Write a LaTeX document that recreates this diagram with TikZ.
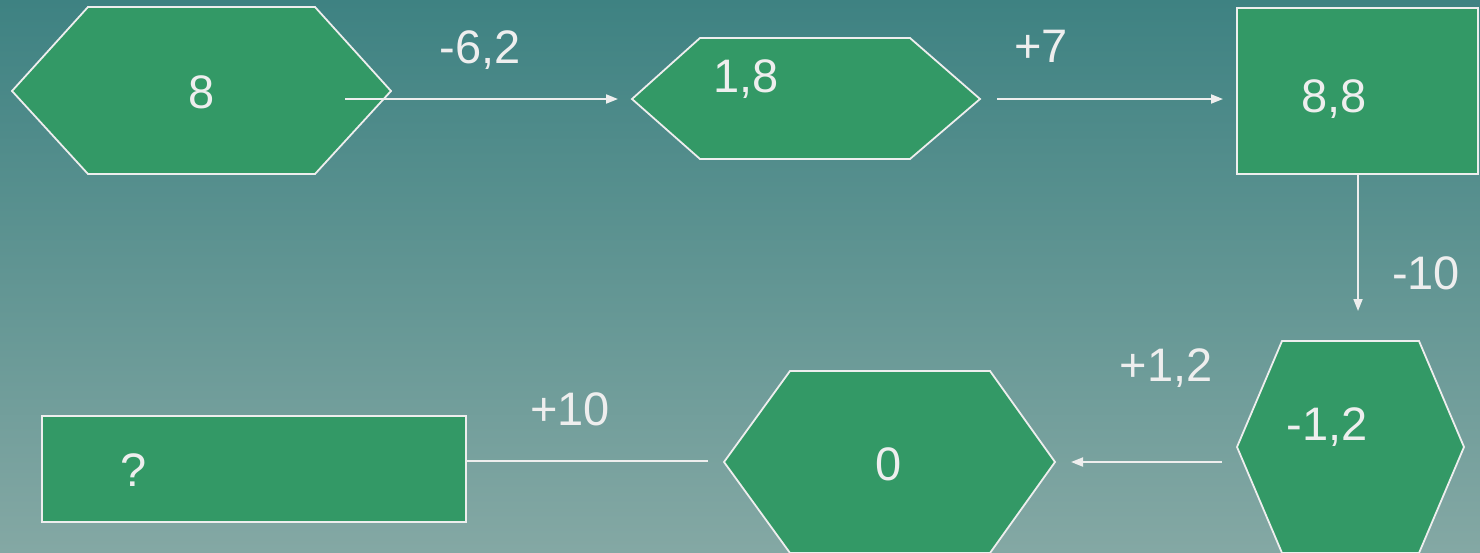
\documentclass[tikz,border=0pt]{standalone}
\usepackage{fontspec}
\setmainfont{Liberation Sans}
\usetikzlibrary{arrows.meta}
\definecolor{bgtop}{HTML}{3E8282}
\definecolor{bgbot}{HTML}{84A8A4}
\definecolor{shapegreen}{HTML}{339966}
\definecolor{edgewhite}{HTML}{EEEEEE}
\begin{document}
\begin{tikzpicture}[x=1pt,y=-1pt,
  shapebox/.style={fill=shapegreen,draw=edgewhite,line width=1.8pt,line join=miter},
  lbl/.style={text=edgewhite,font=\fontsize{47}{56}\selectfont,inner sep=0pt,anchor=base},
  conn/.style={draw=edgewhite,line width=1.8pt,-{Triangle[length=12pt,width=9pt]}},
  plainconn/.style={draw=edgewhite,line width=1.8pt},
]
\shade[top color=bgtop,bottom color=bgbot] (0,0) rectangle (1480,552);
\useasboundingbox (0,0) rectangle (1480,552);

% shapes
\path[shapebox] (12,91) -- (88,7) -- (315,7) -- (391,91) -- (315,174) -- (88,174) -- cycle;
\path[shapebox] (632,99) -- (700,38) -- (910,38) -- (980,99) -- (910,159) -- (700,159) -- cycle;
\path[shapebox] (1237,8) rectangle (1478,174);
\path[shapebox] (1237,447) -- (1282,341) -- (1419,341) -- (1464,447) -- (1419,553) -- (1282,553) -- cycle;
\path[shapebox] (724,462) -- (790,371) -- (990,371) -- (1055,462) -- (990,553) -- (790,553) -- cycle;
\path[shapebox] (42,416) rectangle (466,522);

% texts in shapes
\node[lbl] (t8) at (202,108) {8};
\node[lbl] (t18) at (746,92) {1,8};
\node[lbl] (t88) at (1334,112) {8,8};
\node[lbl] (tm12) at (1327,440) {-1,2};
\node[lbl] (t0) at (889,480) {0};
\node[lbl] (tq) at (134,486) {?};

% connector labels
\node[lbl] (lm62) at (480,63) {-6,2};
\node[lbl] (lp7) at (1041,62) {+7};
\node[lbl] (lm10) at (1426,289) {-10};
\node[lbl] (lp12) at (1166,381) {+1,2};
\node[lbl] (lp10) at (570,425) {+10};

% connector end points
\coordinate (a1s) at (345,99);
\coordinate (a1e) at (618,99);
\coordinate (a2s) at (997,99);
\coordinate (a2e) at (1223,99);
\coordinate (a3s) at (1358,174);
\coordinate (a3e) at (1358,311);
\coordinate (a4s) at (1222,462);
\coordinate (a4e) at (1071,462);
\coordinate (a5s) at (708,461);
\coordinate (a5e) at (466,461);

\draw[conn] (a1s) -- (a1e);
\draw[conn] (a2s) -- (a2e);
\draw[conn] (a3s) -- (a3e);
\draw[conn] (a4s) -- (a4e);
\draw[plainconn] (a5s) -- (a5e);
\end{tikzpicture}
\end{document}
